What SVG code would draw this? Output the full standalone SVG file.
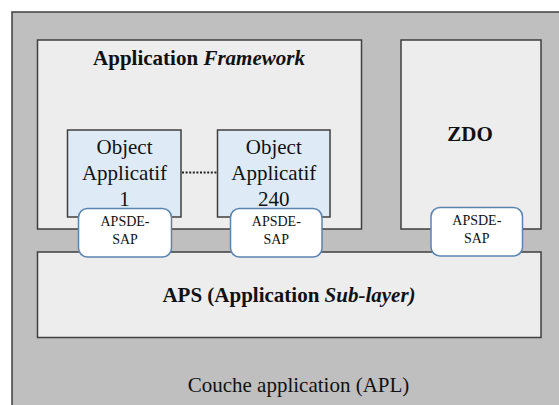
<svg xmlns="http://www.w3.org/2000/svg" width="559" height="405" viewBox="0 0 559 405">
  <style>
    .box { fill: #ededed; stroke: #3f3f3f; stroke-width: 1.5; }
    .obj { fill: #deebf7; stroke: #3f3f3f; stroke-width: 1.5; }
    .sap { fill: #ffffff; stroke: #5b84b1; stroke-width: 1.5; }
    text { font-family: "Liberation Serif", "Times New Roman", serif; fill: #111; text-anchor: middle; }
    .h { font-size: 21px; font-weight: bold; }
    .n { font-size: 21px; }
    .s { font-size: 14px; }
    .link { stroke: #222; stroke-width: 2; stroke-dasharray: 2 1.6; fill: none; }
  </style>

  <rect width="559" height="405" fill="#ffffff"/>

  <!-- application layer (runs past the right and bottom edges) -->
  <g id="apl">
    <rect x="12" y="12" width="570" height="420" fill="#bfbfbf" stroke="#3f3f3f" stroke-width="1.5"/>
    <text class="n" x="298.5" y="391.5">Couche application (APL)</text>
  </g>

  <g id="framework">
    <rect class="box" x="37.5" y="40" width="324" height="189"/>
    <text class="h" x="199" y="65">Application <tspan font-style="italic">Framework</tspan></text>
  </g>

  <g id="zdo">
    <rect class="box" x="401" y="40" width="140" height="189"/>
    <text class="h" x="470" y="141">ZDO</text>
  </g>

  <g id="aps">
    <rect class="box" x="37.5" y="252" width="503.5" height="85.5"/>
    <text class="h" x="289" y="301.5">APS (Application <tspan font-style="italic">Sub-layer)</tspan></text>
  </g>

  <g id="obj1">
    <rect class="obj" x="67.5" y="130" width="113.5" height="87"/>
    <text class="n" x="124.5" y="154">Object</text>
    <text class="n" x="124.5" y="180">Applicatif</text>
    <text class="n" x="124.5" y="206">1</text>
  </g>

  <g id="obj240">
    <rect class="obj" x="217.5" y="130" width="112.5" height="87"/>
    <text class="n" x="273.8" y="154">Object</text>
    <text class="n" x="273.8" y="180">Applicatif</text>
    <text class="n" x="273.8" y="206">240</text>
  </g>

  <g id="connectors">
    <line class="link" x1="182" y1="172.5" x2="216.5" y2="172.5"/>
  </g>

  <g id="sap1">
    <rect class="sap" x="78.5" y="208.5" width="93" height="48.5" rx="9"/>
    <text class="s" x="125" y="226">APSDE-</text>
    <text class="s" x="125" y="243.5">SAP</text>
  </g>

  <g id="sap240">
    <rect class="sap" x="230.5" y="208.5" width="91.5" height="48.5" rx="9"/>
    <text class="s" x="276.3" y="226">APSDE-</text>
    <text class="s" x="276.3" y="243.5">SAP</text>
  </g>

  <g id="sapzdo">
    <rect class="sap" x="431" y="207.5" width="91.5" height="48.5" rx="9"/>
    <text class="s" x="476.8" y="225">APSDE-</text>
    <text class="s" x="476.8" y="242.5">SAP</text>
  </g>
</svg>
